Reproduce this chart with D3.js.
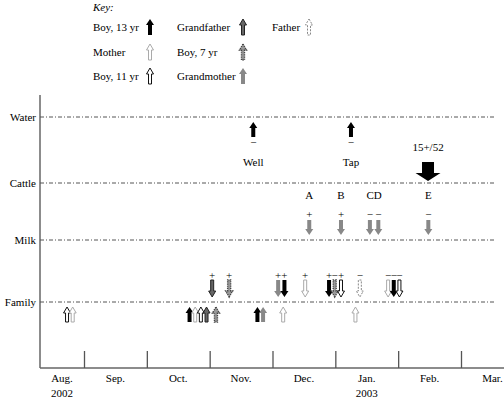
<!DOCTYPE html>
<html><head><meta charset="utf-8">
<script src="https://cdn.jsdelivr.net/npm/d3@7/dist/d3.min.js"></script>
<style>body{margin:0;background:#fff}svg{display:block}svg text{font-family:'Liberation Serif','Times New Roman',Times,serif !important;font-size:11px;fill:#000}</style>
</head><body>
<script>
// months on the x axis (0 = 1 Aug 2002)
const months = ["Aug.","Sep.","Oct.","Nov.","Dec.","Jan.","Feb.","Mar."];
const years = [{m:0,label:"2002"},{m:5,label:"2003"}];
const rows = ["Water","Cattle","Milk","Family"];
const keyItems = [
  {who:"boy13",label:"Boy, 13 yr",col:0,row:0},
  {who:"mother",label:"Mother",col:0,row:1},
  {who:"boy11",label:"Boy, 11 yr",col:0,row:2},
  {who:"grandfather",label:"Grandfather",col:1,row:0},
  {who:"boy7",label:"Boy, 7 yr",col:1,row:1},
  {who:"grandmother",label:"Grandmother",col:1,row:2},
  {who:"father",label:"Father",col:2,row:0}
];
// events: t = time in months since 1 Aug 2002
const familyUp = [
  {t:0.73,who:"boy11"},{t:0.82,who:"mother"},
  {t:2.68,who:"boy13"},{t:2.77,who:"mother"},{t:2.86,who:"boy11"},{t:2.95,who:"grandfather"},{t:3.10,who:"boy7"},
  {t:3.76,who:"boy13"},{t:3.85,who:"grandmother"},{t:4.17,who:"mother"},{t:5.32,who:"mother"}
];
const familyDown = [
  {t:3.04,who:"grandfather",sign:"+"},{t:3.31,who:"boy7",sign:"+"},
  {t:4.09,who:"grandmother",sign:"+"},{t:4.19,who:"boy13",sign:"+"},{t:4.52,who:"mother",sign:"+"},
  {t:4.90,who:"boy13",sign:"+"},{t:4.99,who:"boy7",sign:"−"},{t:5.09,who:"boy11",sign:"+"},
  {t:5.39,who:"father",sign:"−"},
  {t:5.84,who:"mother",sign:"−"},{t:5.93,who:"boy13",sign:"−"},{t:6.02,who:"boy11",sign:"−"}
];
const milk = [
  {t:4.585,who:"grandmother",sign:"+"},{t:5.09,who:"grandmother",sign:"+"},
  {t:5.55,who:"grandmother",sign:"−"},{t:5.684,who:"grandmother",sign:"−"},{t:6.48,who:"grandmother",sign:"−"}
];
const cattleLabels = [{t:4.585,label:"A"},{t:5.09,label:"B"},{t:5.618,label:"CD"},{t:6.48,label:"E"}];
const water = [{t:3.694,who:"boy13",sign:"−",label:"Well"},{t:5.249,who:"boy13",sign:"−",label:"Tap"}];
const bigArrow = [{t:6.475,label:"15+/52"}];

const W=504,H=400;
const FONT="'Liberation Serif','Times New Roman',Times,serif";
const styles = {
  boy13:{fill:"#000",stroke:"none"},
  mother:{fill:"#fff",stroke:"#aaa",sw:1},
  boy11:{fill:"#fff",stroke:"#111",sw:1},
  grandfather:{fill:"#666",stroke:"#222",sw:1},
  boy7:{fill:"#999",stroke:"#444",sw:1.4,dash:"1.2,1"},
  grandmother:{fill:"#888",stroke:"none"},
  father:{fill:"#fff",stroke:"#888",sw:1,dash:"2,1.3"}
};
const svg=d3.select("body").append("svg").attr("width",W).attr("height",H)
  .attr("font-family",FONT).attr("font-size",11);
const x=d3.scaleLinear().domain([1,7]).range([84,461]);
const yPos={Water:117,Cattle:183,Milk:240,Family:302};
const axisX=40, axisBottom=368;

function txt(g,xx,yy,s,anchor){
  return g.append("text").attr("x",xx).attr("y",yy).attr("dy","0.35em")
    .attr("text-anchor",anchor||"middle").attr("font-family",FONT).text(s);
}
function arrow(cx,top,bottom,dir,hw,sw,hh){
  const pts = dir==="up"
   ? [[cx,top],[cx+hw/2,top+hh],[cx+sw/2,top+hh],[cx+sw/2,bottom],[cx-sw/2,bottom],[cx-sw/2,top+hh],[cx-hw/2,top+hh]]
   : [[cx,bottom],[cx+hw/2,bottom-hh],[cx+sw/2,bottom-hh],[cx+sw/2,top],[cx-sw/2,top],[cx-sw/2,bottom-hh],[cx-hw/2,bottom-hh]];
  return "M"+pts.map(p=>p.join(",")).join("L")+"Z";
}
function drawArrow(g,who,cx,top,bottom,dir){
  const s=styles[who];
  const outlined = s.stroke!=="none";
  const hw=outlined?7:8, shw=outlined?3:4;
  g.append("path").attr("d",arrow(cx,top,bottom,dir,hw,shw,6))
   .attr("fill",s.fill).attr("stroke",s.stroke).attr("stroke-width",s.sw||0)
   .attr("stroke-dasharray",s.dash||null).attr("stroke-linejoin","miter");
}

// axes
svg.append("line").attr("x1",axisX).attr("x2",axisX).attr("y1",95).attr("y2",axisBottom)
  .attr("stroke","#666").attr("stroke-width",1.5);
svg.append("line").attr("x1",axisX).attr("x2",W).attr("y1",axisBottom).attr("y2",axisBottom)
  .attr("stroke","#666").attr("stroke-width",1.5);
const ax=svg.append("g").attr("transform",`translate(0,${axisBottom})`)
  .call(d3.axisBottom(x).tickValues(d3.range(1,8)).tickSize(-17).tickFormat(""));
ax.select(".domain").remove();
ax.selectAll(".tick line").attr("stroke","#555").attr("stroke-width",1.3);
months.forEach((m,i)=>txt(svg,(Math.max(x(i),axisX)+x(i+1))/2,378,m));
years.forEach(d=>txt(svg,(Math.max(x(d.m),axisX)+x(d.m+1))/2,393,d.label));

// row lines and labels
rows.forEach(r=>{
  svg.append("line").attr("x1",axisX).attr("x2",496).attr("y1",yPos[r]).attr("y2",yPos[r])
    .attr("stroke","#555").attr("stroke-width",1).attr("stroke-dasharray","4,2,1,2");
  txt(svg,36,yPos[r],r,"end");
});

// water
water.forEach(d=>{
  drawArrow(svg,d.who,x(d.t),yPos.Water+5,yPos.Water+20,"up");
  txt(svg,x(d.t),yPos.Water+25,d.sign);
  txt(svg,x(d.t),yPos.Water+45,d.label);
});
// big arrow
bigArrow.forEach(d=>{
  const cx=x(d.t);
  svg.append("path").attr("d",arrow(cx,yPos.Cattle-21,yPos.Cattle-2,"down",25,12,8)).attr("fill","#000");
  txt(svg,cx,yPos.Cattle-36,d.label);
});
cattleLabels.forEach(d=>txt(svg,x(d.t),yPos.Cattle+12,d.label));
// milk
milk.forEach(d=>{
  drawArrow(svg,d.who,x(d.t),yPos.Milk-20,yPos.Milk-5,"down");
  txt(svg,x(d.t),yPos.Milk-26,d.sign);
});
// family
familyDown.forEach(d=>{
  drawArrow(svg,d.who,x(d.t),yPos.Family-22,yPos.Family-5,"down");
  txt(svg,x(d.t),yPos.Family-27,d.sign);
});
familyUp.forEach(d=>drawArrow(svg,d.who,x(d.t),yPos.Family+5,yPos.Family+20,"up"));

// key
txt(svg,93,7,"Key:","start").style("font-style","italic");
const colText=[93,177,272], colArrow=[150,243,309], rowY=[27,52,76];
keyItems.forEach(k=>{
  txt(svg,colText[k.col],rowY[k.row],k.label,"start");
  drawArrow(svg,k.who,colArrow[k.col],rowY[k.row]-8,rowY[k.row]+8,"up");
});
</script>
</body></html>
